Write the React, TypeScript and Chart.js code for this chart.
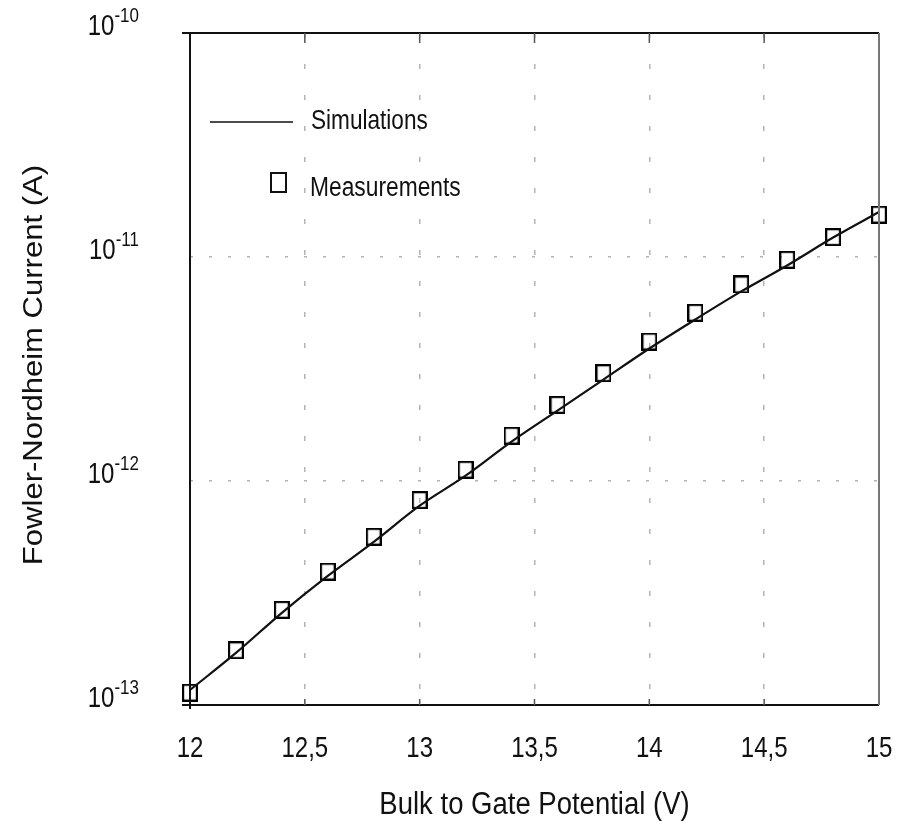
import { useEffect, useRef } from "react";
import { Chart, registerables } from "chart.js";

Chart.register(...registerables);

// ---- data ----
const voltages = [12, 12.2, 12.4, 12.6, 12.8, 13, 13.2, 13.4, 13.6, 13.8, 14, 14.2, 14.4, 14.6, 14.8, 15];
const measured = [
  1.135e-13, 1.756e-13, 2.66e-13, 3.94e-13, 5.64e-13, 8.22e-13, 1.123e-12, 1.594e-12,
  2.187e-12, 3.03e-12, 4.195e-12, 5.636e-12, 7.54e-12, 9.72e-12, 1.227e-11, 1.545e-11,
];
const simulated = [
  1.167e-13, 1.708e-13, 2.58e-13, 3.77e-13, 5.35e-13, 7.76e-13, 1.056e-12, 1.499e-12,
  2.062e-12, 2.837e-12, 3.903e-12, 5.26e-12, 7.02e-12, 9.17e-12, 1.221e-11, 1.588e-11,
];
const xTickValues = [12, 12.5, 13, 13.5, 14, 14.5, 15];
const xTickLabels = ["12", "12,5", "13", "13,5", "14", "14,5", "15"];
const yDecades = [1e-13, 1e-12, 1e-11, 1e-10];
const yExponents = ["-13", "-12", "-11", "-10"];
const seriesNames = ["Simulations", "Measurements"];
const xTitle = "Bulk to Gate Potential (V)";
const yTitle = "Fowler-Nordheim Current (A)";

const FONT = '"Liberation Sans", Arial, Helvetica, sans-serif';

function makeSquare(w: number, h: number): HTMLCanvasElement {
  const c = document.createElement("canvas");
  c.width = w;
  c.height = h;
  const g = c.getContext("2d")!;
  g.strokeStyle = "#000";
  g.lineWidth = 2.2;
  g.strokeRect(1.1, 1.1, w - 2.2, h - 2.2);
  return c;
}

function txt(
  ctx: CanvasRenderingContext2D,
  s: string,
  x: number,
  y: number,
  size: number,
  sy: number,
  align: CanvasTextAlign,
) {
  ctx.save();
  ctx.translate(x, y);
  ctx.scale(1, sy);
  ctx.font = `${size}px ${FONT}`;
  ctx.textAlign = align;
  ctx.textBaseline = "alphabetic";
  ctx.fillStyle = "#111";
  ctx.fillText(s, 0, 0);
  ctx.restore();
}

const decorPlugin = {
  id: "decor",
  beforeDraw(chart: any) {
    const ctx = chart.ctx as CanvasRenderingContext2D;
    ctx.save();
    ctx.fillStyle = "#fff";
    ctx.fillRect(0, 0, chart.width, chart.height);
    ctx.restore();
  },
  afterDraw(chart: any) {
    const ctx = chart.ctx as CanvasRenderingContext2D;
    const { left, right, top, bottom } = chart.chartArea;
    const xs = chart.scales.x;
    const ys = chart.scales.y;

    // frame
    ctx.save();
    ctx.lineCap = "butt";
    ctx.strokeStyle = "#111";
    ctx.lineWidth = 2;
    ctx.beginPath();
    ctx.moveTo(left - 8, top);
    ctx.lineTo(right, top);
    ctx.moveTo(left, top - 1);
    ctx.lineTo(left, bottom + 4);
    ctx.moveTo(left - 8, bottom);
    ctx.lineTo(right, bottom);
    ctx.stroke();
    ctx.strokeStyle = "#777";
    ctx.beginPath();
    ctx.moveTo(right, top);
    ctx.lineTo(right, bottom);
    ctx.stroke();

    // inward ticks on top and bottom
    ctx.strokeStyle = "#555";
    ctx.lineWidth = 1.5;
    ctx.beginPath();
    xTickValues.forEach((v, i) => {
      if (i === 0 || i === xTickValues.length - 1) return;
      const px = xs.getPixelForValue(v);
      ctx.moveTo(px, top);
      ctx.lineTo(px, top + 10);
      ctx.moveTo(px, bottom);
      ctx.lineTo(px, bottom - 6);
    });
    ctx.stroke();
    ctx.restore();

    // x tick labels
    xTickValues.forEach((v, i) => {
      txt(ctx, xTickLabels[i], xs.getPixelForValue(v), 757, 24, 1.25, "center");
    });
    // x title
    txt(ctx, xTitle, (left + right) / 2, 814, 27.5, 1.12, "center");

    // y tick labels: 10 with superscript exponent
    yDecades.forEach((v, i) => {
      const py = ys.getPixelForValue(v);
      const base = py + 2;
      ctx.save();
      ctx.font = `17px ${FONT}`;
      const supW = ctx.measureText(yExponents[i]).width;
      ctx.font = `24px ${FONT}`;
      const baseW = ctx.measureText("10").width;
      ctx.restore();
      const rightEdge = 139;
      txt(ctx, "10", rightEdge - supW - baseW, base, 24, 1.2, "left");
      txt(ctx, yExponents[i], rightEdge - supW, base - 13, 17, 1.15, "left");
    });

    // y title (rotated)
    ctx.save();
    ctx.translate(42, 365);
    ctx.rotate(-Math.PI / 2);
    ctx.scale(1.15, 1);
    ctx.font = `27px ${FONT}`;
    ctx.textAlign = "center";
    ctx.textBaseline = "alphabetic";
    ctx.fillStyle = "#111";
    ctx.fillText(yTitle, 0, 0);
    ctx.restore();

    // legend
    ctx.save();
    ctx.strokeStyle = "#111";
    ctx.lineWidth = 1.5;
    ctx.beginPath();
    ctx.moveTo(210, 122);
    ctx.lineTo(293, 122);
    ctx.stroke();
    ctx.lineWidth = 2;
    ctx.strokeRect(271, 173, 15, 19);
    ctx.restore();
    txt(ctx, seriesNames[0], 311, 129, 22.6, 1.19, "left");
    txt(ctx, seriesNames[1], 310, 196, 22.8, 1.19, "left");
  },
};

export default function App() {
  const ref = useRef<HTMLCanvasElement>(null);
  useEffect(() => {
    const square = makeSquare(16, 18);
    const chart = new Chart(ref.current!, {
      type: "line",
      data: {
        datasets: [
          {
            label: seriesNames[0],
            data: voltages.map((v, i) => ({ x: v, y: simulated[i] })),
            borderColor: "#111",
            borderWidth: 2.2,
            pointRadius: 0,
            cubicInterpolationMode: "monotone",
            fill: false,
          },
          {
            label: seriesNames[1],
            data: voltages.map((v, i) => ({ x: v, y: measured[i] })),
            showLine: false,
            pointStyle: square as any,
            pointRadius: 8,
            borderColor: "#000",
            backgroundColor: "transparent",
          },
        ],
      },
      options: {
        animation: false,
        responsive: false,
        devicePixelRatio: 1,
        clip: false as any,
        layout: { padding: { left: 190, right: 30, top: 33, bottom: 116 } },
        plugins: { legend: { display: false }, tooltip: { enabled: false } },
        scales: {
          x: {
            type: "linear",
            min: 12,
            max: 15,
            ticks: { display: false, stepSize: 0.5 },
            afterBuildTicks: (s: any) => {
              s.ticks = xTickValues.map((v) => ({ value: v }));
            },
            afterFit: (s: any) => {
              s.height = 0;
            },
            grid: {
              drawTicks: false,
              lineWidth: 1.5,
              color: (c: any) =>
                c.index === 0 || c.index === xTickValues.length - 1 ? "rgba(0,0,0,0)" : "#b4b4b4",
            },
            border: { display: false, dash: [5, 26] },
          },
          y: {
            type: "logarithmic",
            min: 1e-13,
            max: 1e-10,
            ticks: { display: false },
            afterBuildTicks: (s: any) => {
              s.ticks = yDecades.map((v) => ({ value: v }));
            },
            afterFit: (s: any) => {
              s.width = 0;
            },
            grid: {
              drawTicks: false,
              lineWidth: 1.5,
              color: (c: any) =>
                c.index === 0 || c.index === yDecades.length - 1 ? "rgba(0,0,0,0)" : "#b4b4b4",
            },
            border: { display: false, dash: [3, 16] },
          },
        },
      },
      plugins: [decorPlugin],
    });
    return () => chart.destroy();
  }, []);
  return (
    <div style={{ position: "absolute", left: 0, top: 0, width: 909, height: 821 }}>
      <canvas ref={ref} width={909} height={821} />
    </div>
  );
}
